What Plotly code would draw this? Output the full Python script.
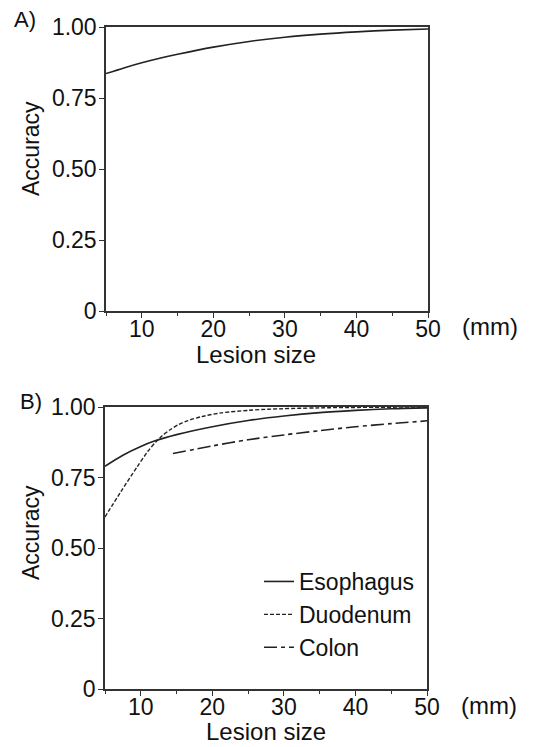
import plotly.graph_objects as go

# Panel A data
a_x = [5, 7.5, 10, 12.5, 15, 20, 25, 30, 35, 40, 45, 50]
a_acc = [0.836, 0.856, 0.874, 0.890, 0.904, 0.929, 0.949, 0.964, 0.975, 0.983, 0.989, 0.993]

# Panel B data
eso_x = [5, 7.5, 10, 12, 15, 20, 25, 30, 35, 40, 45, 50]
eso_acc = [0.790, 0.829, 0.860, 0.880, 0.902, 0.930, 0.952, 0.968, 0.980, 0.988, 0.994, 0.997]

duo_x = [5, 7.2, 9.5, 11, 12.1, 13, 14.2, 15.3, 16.5, 18.5, 21.2, 25, 27.7, 35, 50]
duo_acc = [0.610, 0.699, 0.788, 0.843, 0.876, 0.898, 0.921, 0.938, 0.951, 0.966, 0.979, 0.988, 0.992, 0.997, 1.000]

col_x = [14.5, 20, 25, 30, 35, 40, 45, 50]
col_acc = [0.835, 0.862, 0.884, 0.901, 0.916, 0.930, 0.941, 0.951]

y_tickvals = [0, 0.25, 0.5, 0.75, 1.0]
y_ticktext = ["0", "0.25", "0.50", "0.75", "1.00"]
x_tickvals = [10, 20, 30, 40, 50]
x_ticktext = ["10", "20", "30", "40", "50"]
x_minor = [5, 15, 25, 35, 45]

FONT = "Liberation Sans, Arial, sans-serif"
INK = "#222222"
OFF = 8  # default page body margin
W, H = 544 - OFF, 747 - OFF

fig = go.Figure()
fig.add_trace(go.Scatter(x=a_x, y=a_acc, mode="lines",
                         line=dict(color=INK, width=1.6, shape="spline", smoothing=0.8),
                         showlegend=False, xaxis="x", yaxis="y"))
fig.add_trace(go.Scatter(x=eso_x, y=eso_acc, mode="lines", name="Esophagus", legendgroup="e",
                         line=dict(color=INK, width=1.6, shape="spline", smoothing=0.8),
                         xaxis="x2", yaxis="y2"))
fig.add_trace(go.Scatter(x=duo_x, y=duo_acc, mode="lines", name="Duodenum", legendgroup="d",
                         line=dict(color=INK, width=1.4, shape="spline", smoothing=0.8, dash="4px,2px"),
                         xaxis="x2", yaxis="y2"))
fig.add_trace(go.Scatter(x=col_x, y=col_acc, mode="lines", name="Colon", legendgroup="c",
                         line=dict(color=INK, width=1.6, shape="spline", smoothing=0.8, dash="13px,4px,4px,4px"),
                         xaxis="x2", yaxis="y2"))


def px_x(p):
    return (p - OFF) / W


def px_y(p):
    return 1 - (p - OFF) / H


ax_common = dict(showline=True, mirror=True, linecolor="#333333", linewidth=1.5, showgrid=False,
                 zeroline=False, ticks="outside", ticklen=5, tickcolor="#333333", tickwidth=1.3,
                 automargin=False, tickfont=dict(family=FONT, size=23, color="#111111"))
minor = dict(tickvals=x_minor, ticks="outside", ticklen=3, tickcolor="#333333")

fig.update_layout(
    width=W, height=H,
    margin=dict(l=0, r=0, t=0, b=0, autoexpand=False),
    paper_bgcolor="white", plot_bgcolor="white",
    font=dict(family=FONT, color="#111111"),
    xaxis=dict(domain=[px_x(106), px_x(428)], range=[5, 50], tickvals=x_tickvals, ticktext=x_ticktext,
               minor=minor, anchor="y", ticklabelstandoff=-8, **ax_common),
    yaxis=dict(domain=[px_y(311), px_y(27)], range=[0, 1], tickvals=y_tickvals, ticktext=y_ticktext,
               anchor="x", ticklabelstandoff=-2, **ax_common),
    xaxis2=dict(domain=[px_x(105), px_x(427)], range=[5, 50], tickvals=x_tickvals, ticktext=x_ticktext,
                minor=minor, anchor="y2", ticklabelstandoff=-8, **ax_common),
    yaxis2=dict(domain=[px_y(689), px_y(407)], range=[0, 1], tickvals=y_tickvals, ticktext=y_ticktext,
                anchor="x2", ticklabelstandoff=-2, **ax_common),
    legend=dict(x=px_x(259), y=px_y(560), xanchor="left", yanchor="top",
                font=dict(family=FONT, size=23, color="#111111"), bgcolor="rgba(0,0,0,0)",
                traceorder="grouped", tracegroupgap=0),
    showlegend=True,
)

ann_font = dict(family=FONT, size=23, color="#111111")
big = dict(family=FONT, size=24, color="#111111")
annotations = [
    dict(text="A)", x=px_x(12), y=px_y(20), xanchor="left", yanchor="middle",
         font=dict(family=FONT, size=22, color="#111111")),
    dict(text="B)", x=px_x(18), y=px_y(401), xanchor="left", yanchor="middle",
         font=dict(family=FONT, size=22, color="#111111")),
    dict(text="(mm)", x=px_x(490), y=px_y(326), xanchor="center", yanchor="middle", font=big),
    dict(text="(mm)", x=px_x(489), y=px_y(705), xanchor="center", yanchor="middle", font=big),
    dict(text="Lesion size", x=px_x(256), y=px_y(355), xanchor="center", yanchor="middle", font=big),
    dict(text="Lesion size", x=px_x(266), y=px_y(731), xanchor="center", yanchor="middle", font=big),
    dict(text="Accuracy", x=px_x(31), y=px_y(149), xanchor="center", yanchor="middle", textangle=-90),
    dict(text="Accuracy", x=px_x(31), y=px_y(533), xanchor="center", yanchor="middle", textangle=-90),
]
for a in annotations:
    a.setdefault("font", ann_font)
    a.update(xref="paper", yref="paper", showarrow=False)
fig.update_layout(annotations=annotations)

fig.write_html("out.html")
